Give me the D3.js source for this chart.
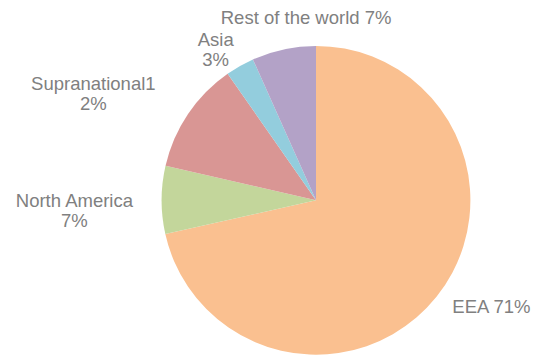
<!DOCTYPE html>
<html>
<head>
<meta charset="utf-8">
<script src="https://cdn.jsdelivr.net/npm/d3@7"></script>
<style>
  body { margin: 0; background: #fff; }
  svg { display: block; }
</style>
</head>
<body>
<div id="chart"></div>
<script>
// slices, clockwise from 12 o'clock (shares)
var regions = ["EEA", "North America", "Supranational1", "Asia", "Rest of the world"];
var shares = [71.5, 7.1, 11.7, 3.0, 6.7];
// label text as printed in the original (one entry per line)
var labelLines = [["EEA 71%"], ["North America", "7%"], ["Supranational1", "2%"], ["Asia", "3%"], ["Rest of the world 7%"]];
var colors = ["#fac090", "#c3d69b", "#d99694", "#93cddd", "#b3a2c7"];

var width = 537, height = 356;
var cx = 316, cy = 200.3, radius = 154.4;

// where each label block sits: angle (deg, clockwise from top) and distance in radii
var labelAngle = [121.1, 267.7, 295.6, 326.3, 356.9];
var labelDist = [1.327, 1.566, 1.599, 1.171, 1.187];

var svg = d3.select("#chart")
    .append("svg")
        .attr("width", width)
        .attr("height", height);

var g = svg.append("g")
    .attr("transform", "translate(" + cx + "," + cy + ")");

var pie = d3.pie().sort(null).value(function(d) { return d; });
var arc = d3.arc().innerRadius(0).outerRadius(radius);

var arcs = pie(shares);

g.selectAll("path.slice")
    .data(arcs)
    .enter()
    .append("path")
        .attr("class", "slice")
        .attr("d", arc)
        .attr("fill", function(d, i) { return colors[i]; });

var lineH = 20;
var labels = g.selectAll("text.lbl")
    .data(arcs)
    .enter()
    .append("text")
        .attr("class", "lbl")
        .attr("text-anchor", "middle")
        .attr("font-family", "'Liberation Sans', Arial, sans-serif")
        .attr("font-size", 18.5)
        .attr("fill", "#808080")
        .attr("transform", function(d, i) {
            var p = d3.pointRadial(labelAngle[i] * Math.PI / 180, labelDist[i] * radius);
            return "translate(" + p[0] + "," + p[1] + ")";
        });

labels.each(function(d, i) {
    var lines = labelLines[i];
    var first = -(lines.length - 1) * lineH / 2 + 6.5;
    d3.select(this).selectAll("tspan")
        .data(lines)
        .enter()
        .append("tspan")
            .attr("x", 0)
            .attr("y", function(t, j) { return first + j * lineH; })
            .text(function(t) { return t; });
});
</script>
</body>
</html>
